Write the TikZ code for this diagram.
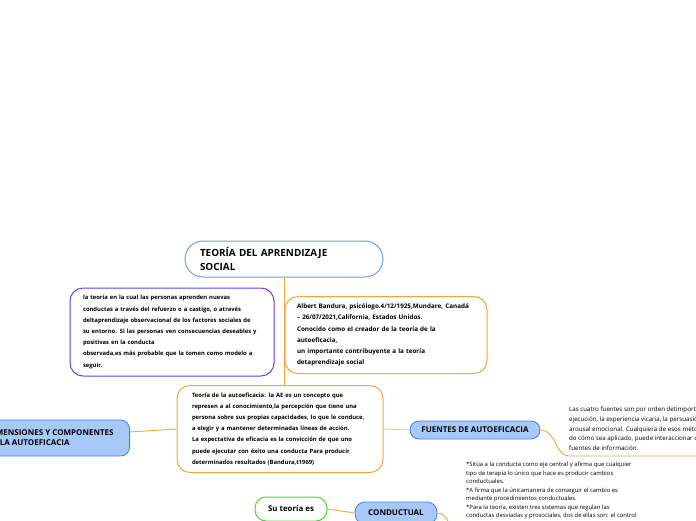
\documentclass[tikz,border=0pt]{standalone}
\usepackage{fontspec}
\setmainfont{Open Sans}
\usetikzlibrary{positioning,calc}

\definecolor{textgreen}{HTML}{1D4634}
\definecolor{linkorange}{HTML}{F9A436}
\definecolor{boxpurple}{HTML}{6A3CF2}
\definecolor{skyblue}{HTML}{62A4E6}
\definecolor{topicblue}{HTML}{A6C9F8}
\definecolor{topicedge}{HTML}{4080DA}
\definecolor{leafgreen}{HTML}{48DC22}

\begin{document}
\begin{tikzpicture}[x=1pt,y=-1pt,font=\bfseries\color{textgreen}]
    \tikzstyle{link}=[draw=linkorange,line width=0.9pt]
    \tikzstyle{thin link}=[draw=linkorange!70,line width=0.8pt]
    \tikzstyle{box}=[draw,line width=1pt,fill=white,rounded corners=13pt,align=left,inner ysep=0pt,font=\fontsize{5.85}{11.2}\selectfont\bfseries]
    \tikzstyle{title box}=[box,draw=skyblue,rounded corners=18pt,font=\fontsize{9.9}{13.5}\selectfont\bfseries]
    \tikzstyle{topic}=[draw=topicedge,fill=topicblue,line width=0.8pt,rounded corners=9pt,align=center,font=\fontsize{8}{10}\selectfont\bfseries]
    \tikzstyle{info}=[align=left,anchor=north west,inner sep=0pt,font=\fontsize{6.2}{9.6}\selectfont\mdseries]

    \useasboundingbox (0,0) rectangle (696,520);
    \clip (0,0) rectangle (696,520);

    % Draw the central topic
    \node[title box,minimum width=198,minimum height=36,text width=168] (title) at (284,259)
        {TEORÍA DEL APRENDIZAJE\\SOCIAL};

    % Draw the definition and the author boxes
    \node[box,draw=boxpurple,minimum width=204,minimum height=88,text width=178] (definicion) at (172,332)
        {la teoría en la cual las personas aprenden nuevas\\
         conductas a través del refuerzo o a castigo, o através\\
         deltaprendizaje observacional de los factores sociales de\\
         su entorno. Si las personas ven consecuencias deseables y\\
         positivas en la conducta\\
         observada,es más probable que la tomen como modelo a\\
         seguir.};
    \node[box,draw=linkorange,minimum width=202,minimum height=77,text width=178,
          font=\fontsize{6.3}{11.3}\selectfont\bfseries] (autor) at (386,335)
        {Albert Bandura, psicólogo.4/12/1925,Mundare, Canadá\\
         – 26/07/2021,California, Estados Unidos.\\
         Conocido como el creador de la teoría de la\\
         autoeficacia,\\
         un importante contribuyente a la teoría\\
         detaprendizaje social};

    % Draw the self-efficacy box
    \node[box,draw=linkorange,minimum width=206,minimum height=87,text width=176] (aeficacia) at (280,429)
        {Teoría de la autoeficacia: la AE es un concepto que\\
         represen a al conocimiento,la percepción que tiene una\\
         persona sobre sus propias capacidades, lo que le conduce,\\
         a elegir y a mantener determinadas líneas de acción.\\
         La expectativa de eficacia es la convicción de que uno\\
         puede ejecutar con éxito una conducta Para producir\\
         determinados resultados (Bandura,t1969)};

    % Draw the blue topics
    \node[topic,align=left,anchor=east,minimum height=36,inner xsep=16pt] (dimensiones) at (130,438)
        {DIMENSIONES Y COMPONENTES\\DE LA AUTOEFICACIA};
    \node[topic,minimum width=130,minimum height=18] (fuentes) at (475,430) {FUENTES DE AUTOEFICACIA};
    \node[topic,minimum width=82,minimum height=22,rounded corners=10pt] (conductual) at (396,513) {CONDUCTUAL};
    \node[box,draw=leafgreen,align=center,minimum width=72,minimum height=24,rounded corners=11pt,
          font=\fontsize{7.9}{10}\selectfont\bfseries] (teoria) at (291,509) {Su teoría es};

    % Draw the notes beside the topics
    \node[info] (fuentes info) at (569,407)
        {Las cuatro fuentes son por orden detimportancia: los logros de\\
         ejecución, la experiencia vicaria, la persuasión verbal y el\\
         arousal emocional. Cualquiera de esos métodos, dependiendo\\
         de cómo sea aplicado, puede interaccionar con otras\\
         fuentes de información.};
    \node[info,font=\fontsize{5.9}{8.5}\selectfont\mdseries] (conductual info) at (466,462)
        {*Sitúa a la conducta como eje central y afirma que cualquier\\
         tipo de terapia lo único que hace es producir cambios\\
         conductuales.\\
         *A firma que la únicamanera de conseguir el cambio es\\
         mediante procedimientos conductuales.\\
         *Para la teoría, existen tres sistemas que regulan las\\
         conductas desviadas y prosociales, dos de ellas son: el control};
    \coordinate (fuentes end) at (700,456);
    \coordinate (conductual end) at (452,540);

    % Connect the topics
    \draw[link] (title.south) -- (title.south |- aeficacia.north);
    \draw[link] ([yshift=6pt]dimensiones.east) -- (aeficacia.west);
    \draw[thin link] (aeficacia.east) -- (fuentes.west);
    \draw[link] (fuentes.east) .. controls +(16,0) and +(-14,0) .. (fuentes info.south west |- fuentes end) -- (fuentes end);
    \draw[link] (teoria.east) -- (conductual.west);
    \draw[link] (conductual.east) .. controls +(10,0) and +(0,-12) .. (conductual end);
\end{tikzpicture}
\end{document}
